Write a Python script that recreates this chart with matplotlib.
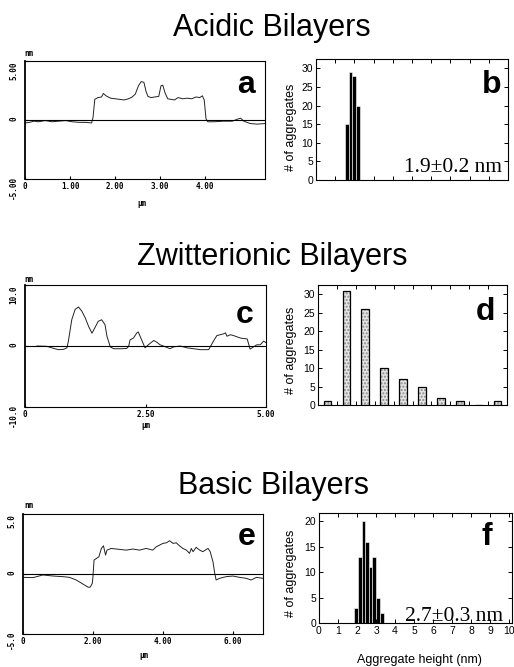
import numpy as np
import matplotlib
matplotlib.use('Agg')
from matplotlib import pyplot as plt

# height profiles (x in um, height in nm)
a_x = [0.00, 0.10, 0.20, 0.30, 0.45, 0.60, 0.75, 0.90, 1.05, 1.20, 1.35, 1.48, 1.51, 1.55, 1.62, 1.70,
       1.74, 1.80, 1.90, 2.00, 2.10, 2.20, 2.30, 2.38, 2.45, 2.52, 2.58, 2.64, 2.69, 2.73, 2.80, 2.88,
       2.97, 3.02, 3.06, 3.11, 3.17, 3.24, 3.32, 3.40, 3.50, 3.60, 3.70, 3.80, 3.88, 3.94, 3.98, 4.02,
       4.06, 4.20, 4.40, 4.60, 4.74, 4.79, 4.86, 5.00, 5.15, 5.33]
a_y = [-0.25, -0.20, -0.10, -0.15, -0.05, -0.15, -0.10, -0.05, -0.15, -0.20, -0.20, -0.25, 0.20, 1.75,
       1.90, 1.95, 2.25, 2.05, 1.85, 1.80, 1.75, 1.70, 1.80, 1.95, 2.20, 2.90, 3.25, 3.20, 2.40, 2.00,
       1.90, 1.95, 2.00, 2.90, 2.95, 2.30, 1.80, 1.75, 1.70, 1.90, 1.80, 1.85, 1.80, 1.95, 1.90, 2.05,
       1.70, 0.10, -0.15, -0.15, -0.10, -0.10, 0.10, 0.15, -0.10, -0.30, -0.35, -0.30]

c_x = [0.25, 0.45, 0.60, 0.69, 0.80, 0.87, 0.90, 0.97, 1.04, 1.11, 1.18, 1.25, 1.32, 1.39, 1.45, 1.52,
       1.59, 1.66, 1.70, 1.77, 1.84, 2.00, 2.11, 2.15, 2.18, 2.25, 2.32, 2.35, 2.42, 2.49, 2.56, 2.67,
       2.74, 2.80, 2.87, 3.01, 3.08, 3.22, 3.36, 3.50, 3.64, 3.81, 3.91, 3.98, 4.05, 4.12, 4.16, 4.19,
       4.26, 4.33, 4.47, 4.61, 4.67, 4.74, 4.81, 4.88, 4.95, 5.00]
c_y = [0.00, -0.05, -0.40, -0.60, -0.55, -0.30, 0.80, 4.30, 6.00, 6.40, 5.70, 4.60, 3.20, 2.10, 3.00,
       4.05, 4.30, 3.50, 1.60, -0.15, -0.45, -0.45, -0.40, -0.05, 1.00, 1.30, 2.15, 2.30, 1.00, -0.30,
       0.20, 0.90, 0.60, 0.20, 0.00, -0.45, -0.15, 0.00, -0.30, -0.45, -0.60, -0.60, 0.80, 1.70, 1.85,
       2.00, 2.15, 1.60, 1.85, 1.70, 1.30, 1.15, -0.50, -0.15, 0.20, 0.20, 0.80, 0.55]

e_x = [0.00, 0.29, 0.57, 0.86, 1.14, 1.33, 1.52, 1.71, 1.86, 1.92, 1.98, 2.00, 2.03, 2.10, 2.17, 2.24,
       2.30, 2.36, 2.40, 2.52, 2.67, 2.95, 3.14, 3.33, 3.52, 3.71, 3.81, 4.00, 4.10, 4.19, 4.29, 4.38,
       4.48, 4.57, 4.67, 4.76, 4.81, 4.86, 4.95, 5.05, 5.14, 5.24, 5.29, 5.35, 5.43, 5.48, 5.52, 5.62,
       5.81, 6.00, 6.19, 6.38, 6.52, 6.67, 6.86]
e_y = [-0.28, -0.30, -0.08, -0.17, -0.22, -0.28, -0.50, -0.83, -1.10, -1.10, -0.78, -0.22, 1.16, 1.30,
       1.44, 2.13, 2.35, 1.58, 1.99, 2.13, 2.08, 1.99, 2.08, 1.99, 2.13, 1.99, 2.27, 2.55, 2.60, 2.77,
       2.55, 2.60, 2.33, 2.13, 1.99, 1.72, 2.13, 1.86, 2.22, 1.99, 1.86, 2.05, 2.13, 1.86, 1.02, 0.06,
       -0.50, -0.36, -0.22, -0.17, -0.28, -0.36, -0.50, -0.28, -0.36]

# histograms
b_edges = [1.5, 1.7, 1.9, 2.1, 2.3]
b_counts = [15, 29, 28, 20]
d_centers = [0.5, 1.5, 2.5, 3.5, 4.5, 5.5, 6.5, 7.5, 8.5, 9.5]
d_counts = [1, 31, 26, 10, 7, 5, 2, 1, 0, 1]
f_edges = [1.85, 2.05, 2.24, 2.43, 2.62, 2.81, 3.00, 3.20, 3.40]
f_counts = [3, 13, 20, 16, 11, 13, 5, 2]

W, H = 514, 667


def box(l, t, r, b):
    return [l / W, 1 - b / H, (r - l) / W, (b - t) / H]


def ftext(px, py, s, **kw):
    fig.text(px / W, 1 - py / H, s, **kw)


fig = plt.figure(figsize=(5.14, 6.67), dpi=100)
mono = dict(family='DejaVu Sans Mono', fontweight='bold', fontsize=5.5)


def profile(rect, x, y, xmax, ylim, xticks, xlabels, ylabels):
    ax = fig.add_axes(rect)
    ax.plot(x, y, color='#222222', lw=0.7)
    ax.axhline(0, color='k', lw=0.8)
    ax.set_xlim(0, xmax)
    ax.set_ylim(-ylim, ylim)
    ax.set_xticks(xticks, xlabels, **mono)
    ax.set_yticks([ylim, 0, -ylim], ylabels, rotation=90, **mono)
    lbls = ax.get_yticklabels()
    lbls[0].set_va('top')
    ax.tick_params(axis='both', length=2, direction='in')
    ax.tick_params(axis='x', pad=2)
    ax.tick_params(axis='y', pad=5)
    for s in ax.spines.values():
        s.set_linewidth(0.8)
    ax.spines['left'].set_linewidth(1.3)
    return ax


def hist_axes(rect, xmax, ytop, yticks, xlabels):
    ax = fig.add_axes(rect)
    ax.set_xlim(0, xmax)
    ax.set_ylim(0, ytop)
    ax.set_xticks(range(11))
    ax.set_yticks(yticks)
    ax.tick_params(direction='in', top=True, right=True, length=3, pad=2,
                   labelsize=7.5, width=0.7)
    if not xlabels:
        ax.set_xticklabels([])
    for s in ax.spines.values():
        s.set_linewidth(0.8)
    return ax


plt.rcParams['font.family'] = ['Liberation Sans', 'DejaVu Sans']

# titles
ftext(272, 36, 'Acidic Bilayers', fontsize=22, ha='center', va='baseline')
ftext(272, 265, 'Zwitterionic Bilayers', fontsize=22, ha='center', va='baseline')
ftext(274, 494, 'Basic Bilayers', fontsize=22, ha='center', va='baseline')

# profiles
profile(box(25, 61, 265, 179), a_x, a_y, 5.33, 5,
        [0, 1, 2, 3, 4], ['0', '1.00', '2.00', '3.00', '4.00'], ['5.00', '0', '-5.00'])
profile(box(25, 285, 266, 407), c_x, c_y, 5.0, 10,
        [0, 2.5, 5], ['0', '2.50', '5.00'], ['10.0', '0', '-10.0'])
profile(box(23, 514, 263, 634), e_x, e_y, 6.86, 5,
        [0, 2, 4, 6], ['0', '2.00', '4.00', '6.00'], ['5.0', '0', '-5.0'])

for py in (53.5, 279, 505.5):
    ftext(29, py, 'nm', ha='center', va='center', **mono)
for px, py in ((142, 203), (146, 425), (144, 655)):
    ftext(px, py, 'μm', ha='center', va='center', **mono)

# histograms
ax = hist_axes(box(316, 59, 508, 180), 10, 32.5, range(0, 31, 5), False)
ax.bar(b_edges[:-1], b_counts, width=np.diff(b_edges), align='edge',
       color='black', edgecolor='white', linewidth=0.4)
ax = hist_axes(box(318, 285, 507, 405), 10, 32.5, range(0, 31, 5), False)
ax.bar(d_centers, d_counts, width=0.4, color='#e4e4e4', edgecolor='#8a8a8a',
       hatch='.....', linewidth=0)
ax.bar(d_centers, d_counts, width=0.4, fill=False, edgecolor='black', linewidth=0.9)
ax = hist_axes(box(319, 513, 512, 623), 10.15, 21.6, range(0, 21, 5), True)
ax.bar(f_edges[:-1], f_counts, width=np.diff(f_edges), align='edge',
       color='black', edgecolor='white', linewidth=0.4)
ax.set_xticklabels([str(i) for i in range(11)], fontsize=7.5)
ftext(419, 660, 'Aggregate height (nm)', fontsize=9, ha='center', va='center')

for py in (127, 350, 573):
    ftext(291, py, '# of aggregates', fontsize=9, rotation=90, ha='center', va='center')

ftext(502, 171.7, '1.9±0.2 nm', family='Liberation Serif', fontsize=15.5, ha='right', va='baseline')
ftext(503, 621, '2.7±0.3 nm', family='Liberation Serif', fontsize=15.5, ha='right', va='baseline')

# panel letters
for px, py, s in ((246, 93, 'a'), (492, 93, 'b'), (245, 323, 'c'),
                  (485, 320, 'd'), (247, 545, 'e'), (487, 545, 'f')):
    ftext(px, py, s, fontsize=23, fontweight='bold', ha='center', va='baseline')

fig.savefig('out.png', dpi=100)
